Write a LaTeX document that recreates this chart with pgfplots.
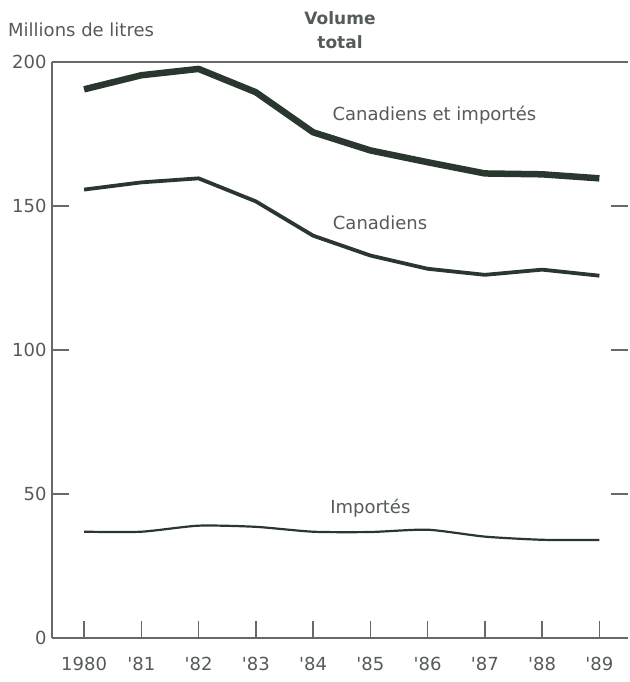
\documentclass[border=0pt]{standalone}
\usepackage{fontspec}
\setmainfont{DejaVu Sans}[Ligatures=TeXOff]
\usepackage{pgfplots}
\pgfplotsset{compat=1.18}
\definecolor{linecol}{HTML}{2A372F}
\definecolor{txtcol}{HTML}{555B57}
\definecolor{axcol}{HTML}{646A66}
\begin{document}
\begin{tikzpicture}
\path[use as bounding box] (-52bp,-44bp) rectangle (578bp,638bp);
\begin{axis}[
  at={(0,0)}, anchor=south west,
  scale only axis, width=576bp, height=576bp,
  xmin=1979.44, xmax=1989.5, ymin=0, ymax=200,
  separate axis lines,
  x axis line style={draw=axcol, line width=1.4bp},
  y axis line style={draw=none},
  xtick={1980,1981,1982,1983,1984,1985,1986,1987,1988,1989},
  xticklabels={1980,'81,'82,'83,'84,'85,'86,'87,'88,'89},
  ytick={0,50,100,150,200},
  xtick pos=bottom, ytick pos=both, yticklabel pos=left,
  tick align=inside,
  major tick length=17bp,
  tick style={draw=axcol, line width=1.4bp},
  /pgf/number format/assume math mode=true,
  ticklabel style={font=\fontsize{18bp}{21bp}\selectfont, text=txtcol},
  xticklabel style={yshift=-16bp},
  yticklabel style={xshift=-2bp},
  clip=false,
]
\draw[axcol, line width=1.4bp] (rel axis cs:0,0) -- (rel axis cs:0,1);
\addplot[linecol, line width=6.5bp, line join=round] coordinates {
 (1980,190.5) (1981,195.4) (1982,197.6) (1983,189.5) (1984,175.6)
 (1985,169.3) (1986,165.2) (1987,161.3) (1988,161.0) (1989,159.6)};
\addplot[linecol, line width=3.8bp, line join=round] coordinates {
 (1980,155.7) (1981,158.2) (1982,159.6) (1983,151.6) (1984,139.7)
 (1985,132.8) (1986,128.2) (1987,126.1) (1988,127.9) (1989,125.8)};
\addplot[linecol, line width=2.2bp, smooth, tension=0.4] coordinates {
 (1980,36.9) (1981,36.9) (1982,39.0) (1983,38.6) (1984,36.9)
 (1985,36.8) (1986,37.6) (1987,35.2) (1988,34.1) (1989,34.0)};
\node[text=txtcol, font=\fontsize{18bp}{21bp}\selectfont] at (axis cs:1986.12,181.5) {Canadiens et importés};
\node[text=txtcol, font=\fontsize{18bp}{21bp}\selectfont] at (axis cs:1985.17,144) {Canadiens};
\node[text=txtcol, font=\fontsize{18bp}{21bp}\selectfont] at (axis cs:1985.0,45) {Importés};
\end{axis}
\node[anchor=west, text=txtcol, font=\fontsize{18bp}{21bp}\selectfont, inner sep=0pt] at (-44bp,608bp) {Millions de litres};
\node[align=center, text=txtcol, font=\fontsize{17bp}{24bp}\selectfont\bfseries, inner sep=0pt] at (288bp,608bp) {Volume\\total};
\end{tikzpicture}
\end{document}
